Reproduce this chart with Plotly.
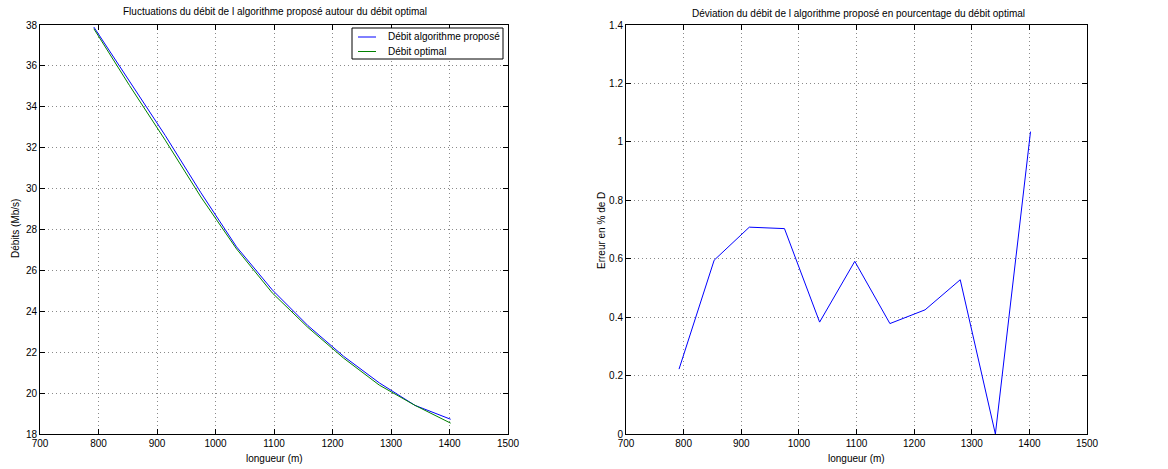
import plotly.graph_objects as go

# Data
longueur = [792, 853, 914, 975, 1036, 1097, 1158, 1219, 1280, 1341, 1402]
debit_propose = [37.90, 35.25, 32.60, 29.80, 27.15, 25.05, 23.30, 21.80, 20.50, 19.40, 18.72]
debit_optimal = [37.82, 35.04, 32.37, 29.59, 27.05, 24.90, 23.21, 21.71, 20.39, 19.40, 18.53]
erreur_pct = [0.222, 0.595, 0.708, 0.703, 0.383, 0.591, 0.378, 0.425, 0.528, 0.0, 1.035]

x_ticks = [700, 800, 900, 1000, 1100, 1200, 1300, 1400, 1500]
y1_ticks = [18, 20, 22, 24, 26, 28, 30, 32, 34, 36, 38]
y2_ticks = [0, 0.2, 0.4, 0.6, 0.8, 1.0, 1.2, 1.4]

series_names = ["Débit algorithme proposé", "Débit optimal"]
series_colors = ["#0000ff", "#008000"]

W, H = 1168, 469
FONT = "Liberation Sans, Arial, Helvetica, sans-serif"

fig = go.Figure()
fig.add_trace(go.Scatter(x=longueur, y=debit_propose, mode="lines", name=series_names[0],
                         showlegend=False,
                         line=dict(color=series_colors[0], width=1), xaxis="x", yaxis="y"))
fig.add_trace(go.Scatter(x=longueur, y=debit_optimal, mode="lines", name=series_names[1],
                         showlegend=False,
                         line=dict(color=series_colors[1], width=1), xaxis="x", yaxis="y"))
fig.add_trace(go.Scatter(x=longueur, y=erreur_pct, mode="lines", showlegend=False,
                         name="Erreur en % de D",
                         line=dict(color="#0000ff", width=1), xaxis="x2", yaxis="y2"))


def px_x(p):
    return p / W


def px_y(p):
    return 1 - p / H


axis_common = dict(
    showline=True, linecolor="black", linewidth=1, mirror="allticks",
    ticks="inside", ticklen=5, tickcolor="black", tickwidth=1,
    showgrid=True, gridcolor="#8a8a8a", griddash="1px,3px", gridwidth=1,
    zeroline=False, automargin=False,
    tickfont=dict(family=FONT, size=10, color="black"),
)

fig.update_layout(
    template="none",
    width=W, height=H,
    margin=dict(l=0, r=0, t=0, b=0, pad=0, autoexpand=False),
    paper_bgcolor="white", plot_bgcolor="white",
    font=dict(family=FONT, size=10, color="black"),
    xaxis=dict(domain=[px_x(40), px_x(508)], range=[700, 1500], tickvals=x_ticks,
               anchor="y", **axis_common),
    yaxis=dict(domain=[px_y(434), px_y(25)], range=[18, 38], tickvals=y1_ticks,
               anchor="x", **axis_common),
    xaxis2=dict(domain=[px_x(626), px_x(1087)], range=[700, 1500], tickvals=x_ticks,
                anchor="y2", **axis_common),
    yaxis2=dict(domain=[px_y(434), px_y(25)], range=[0, 1.4], tickvals=y2_ticks,
                anchor="x2", **axis_common),
    showlegend=False,
)

annotations = [
    dict(text="Fluctuations du débit de l algorithme proposé autour du débit optimal",
         x=px_x(275), y=px_y(11), xref="paper", yref="paper", showarrow=False,
         xanchor="center", yanchor="middle", font=dict(family=FONT, size=10)),
    dict(text="Déviation du débit de l algorithme proposé en pourcentage du débit optimal",
         x=px_x(858), y=px_y(13), xref="paper", yref="paper", showarrow=False,
         xanchor="center", yanchor="middle", font=dict(family=FONT, size=10)),
    dict(text="longueur (m)", x=px_x(274), y=px_y(458), xref="paper", yref="paper",
         showarrow=False, xanchor="center", yanchor="middle", font=dict(family=FONT, size=10)),
    dict(text="longueur (m)", x=px_x(856), y=px_y(458), xref="paper", yref="paper",
         showarrow=False, xanchor="center", yanchor="middle", font=dict(family=FONT, size=10)),
    dict(text="Débits (Mb/s)", x=px_x(15), y=px_y(229), xref="paper", yref="paper",
         showarrow=False, textangle=-90, xanchor="center", yanchor="middle",
         font=dict(family=FONT, size=10)),
    dict(text="Erreur en % de D", x=px_x(601), y=px_y(231), xref="paper", yref="paper",
         showarrow=False, textangle=-90, xanchor="center", yanchor="middle",
         font=dict(family=FONT, size=10)),
]

# Legend box (MATLAB style), drawn as layout decoration
shapes = [
    dict(type="rect", xref="paper", yref="paper",
         x0=px_x(352), x1=px_x(503), y0=px_y(59), y1=px_y(28),
         line=dict(color="black", width=1), fillcolor="white", layer="above"),
]
legend_rows = [37, 51.5]
for name, color, row in zip(series_names, series_colors, legend_rows):
    shapes.append(dict(type="line", xref="paper", yref="paper",
                       x0=px_x(358), x1=px_x(376), y0=px_y(row), y1=px_y(row),
                       line=dict(color=color, width=1), layer="above"))
    annotations.append(dict(text=name, x=px_x(386), y=px_y(row), xref="paper", yref="paper",
                            showarrow=False, xanchor="left", yanchor="middle",
                            font=dict(family=FONT, size=10)))

fig.update_layout(annotations=annotations, shapes=shapes)

fig.write_html(
    "out.html",
    config={"displayModeBar": False},
    post_script="document.body.style.margin='0';document.body.style.padding='0';"
                "document.body.style.overflow='hidden';",
)
